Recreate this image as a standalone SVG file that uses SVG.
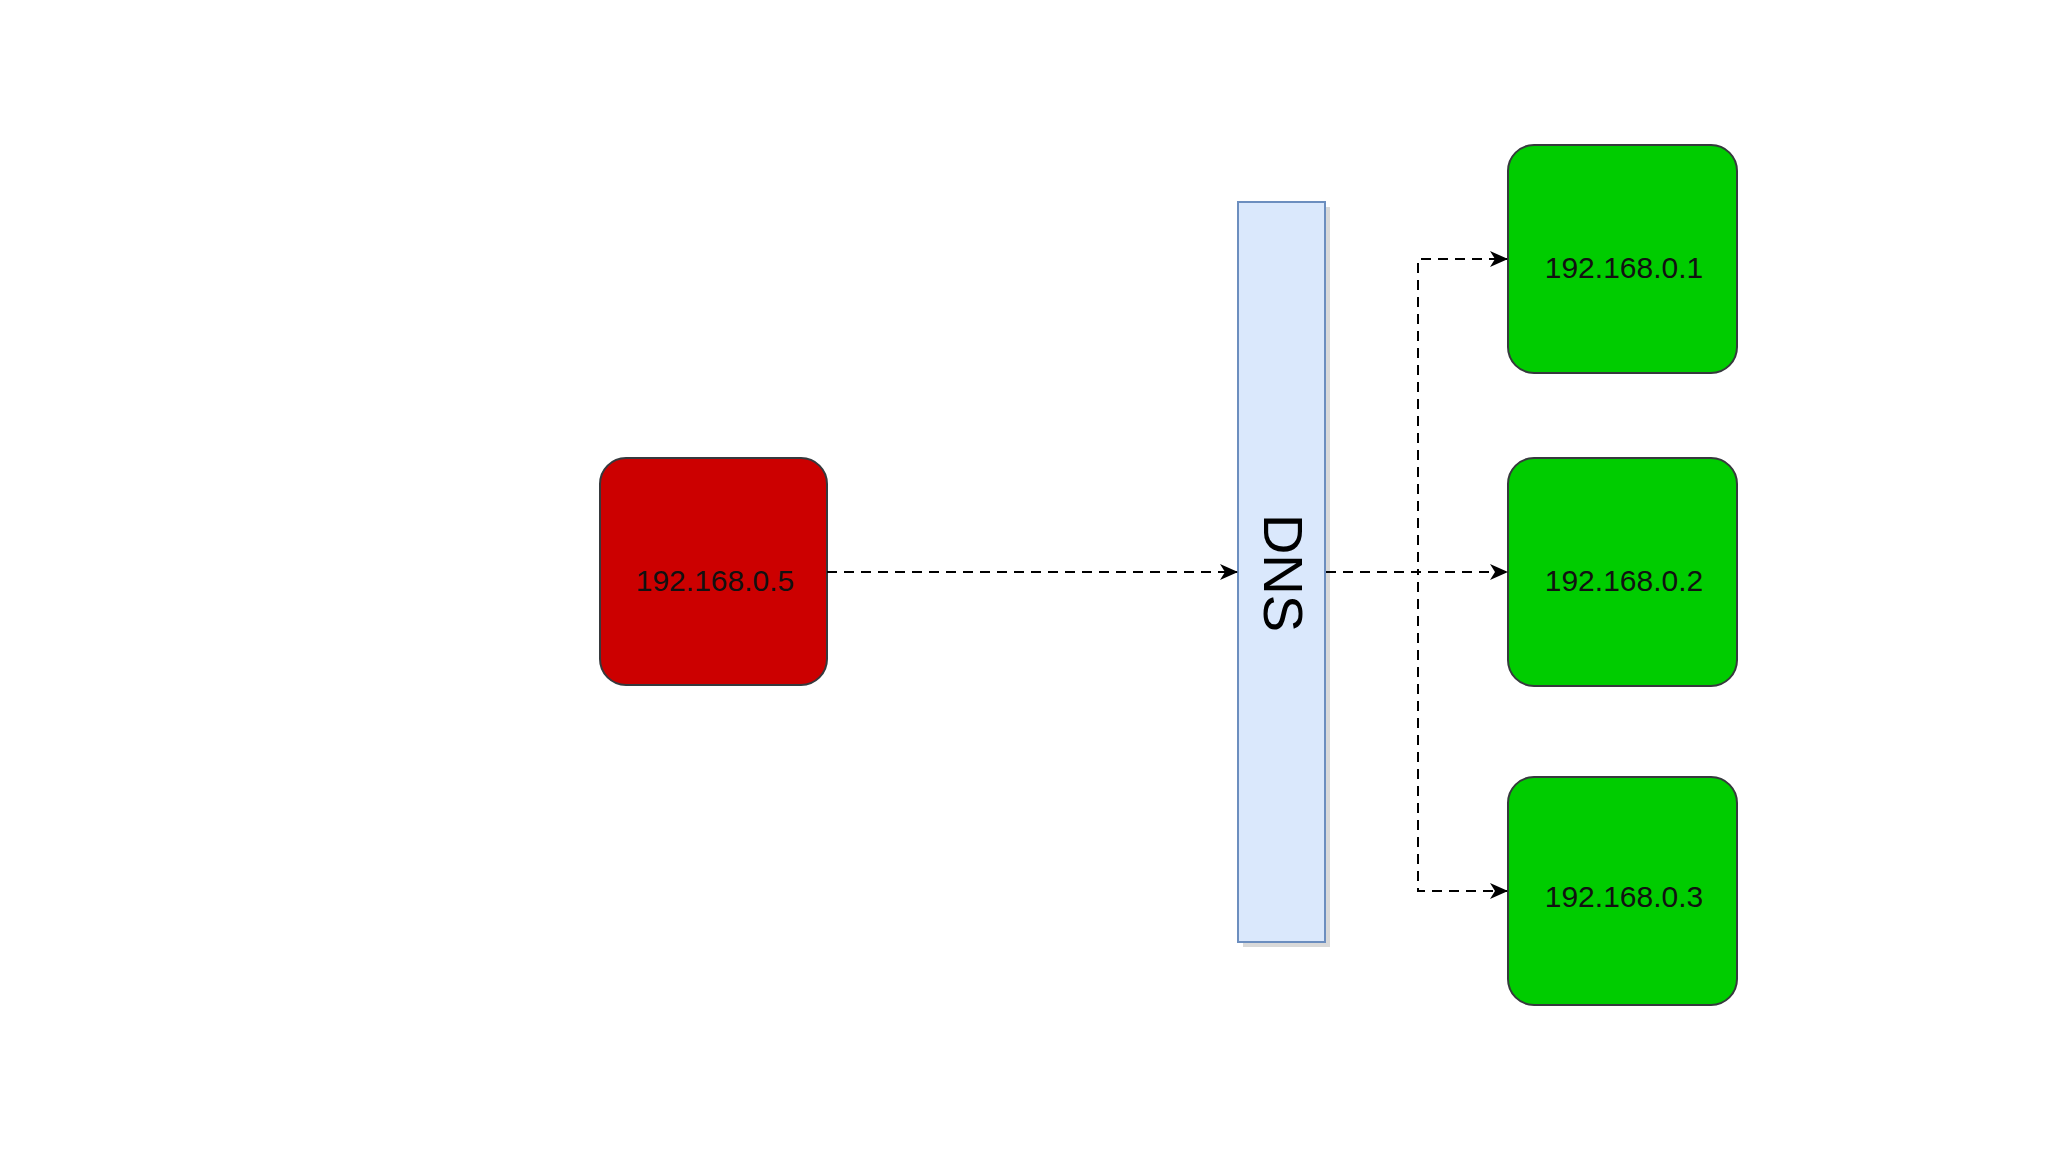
<svg xmlns="http://www.w3.org/2000/svg" width="2048" height="1152" viewBox="0 0 2048 1152">
  <defs>
    <marker id="arrow" viewBox="0 0 18 16" refX="17" refY="8" markerWidth="18" markerHeight="16" markerUnits="userSpaceOnUse" orient="auto">
      <path d="M0,0 L18,8 L0,16 L5,8 Z" fill="#000"/>
    </marker>
  </defs>
  <style>
    .box { stroke: #36393d; stroke-width: 2; }
    .red { fill: #cc0000; }
    .green { fill: #00cc00; }
    .ip { font-family: "Liberation Sans", Arial, sans-serif; font-size: 30px; fill: #111; text-anchor: middle; }
    .conn { fill: none; stroke: #000; stroke-width: 2; stroke-dasharray: 10 7; }
  </style>
  <rect width="2048" height="1152" fill="#ffffff"/>

  <g id="client">
    <rect class="box red" x="600" y="458" width="227" height="227" rx="26" ry="26"/>
    <text class="ip" x="715" y="591">192.168.0.5</text>
  </g>

  <g id="dns">
    <rect x="1243" y="207" width="87" height="740" fill="#cfcfcf" opacity="0.8"/>
    <rect x="1238" y="202" width="87" height="740" fill="#dae8fc" stroke="#6c8ebf" stroke-width="2"/>
    <text x="0" y="0" transform="translate(1283,573) rotate(90)" font-family="Liberation Sans, Arial, sans-serif" font-size="56" fill="#000" text-anchor="middle" dominant-baseline="central">DNS</text>
  </g>

  <g id="server1">
    <rect class="box green" x="1508" y="145" width="229" height="228" rx="26" ry="26"/>
    <text class="ip" x="1624" y="278">192.168.0.1</text>
  </g>
  <g id="server2">
    <rect class="box green" x="1508" y="458" width="229" height="228" rx="26" ry="26"/>
    <text class="ip" x="1624" y="591">192.168.0.2</text>
  </g>
  <g id="server3">
    <rect class="box green" x="1508" y="777" width="229" height="228" rx="26" ry="26"/>
    <text class="ip" x="1624" y="907">192.168.0.3</text>
  </g>

  <g id="connectors">
    <path class="conn" d="M827,572 L1237,572" marker-end="url(#arrow)"/>
    <path class="conn" d="M1326,572 L1418,572 L1418,259 L1507,259" marker-end="url(#arrow)"/>
    <path class="conn" d="M1326,572 L1507,572" marker-end="url(#arrow)"/>
    <path class="conn" d="M1326,572 L1418,572 L1418,891 L1507,891" marker-end="url(#arrow)"/>
  </g>
</svg>
